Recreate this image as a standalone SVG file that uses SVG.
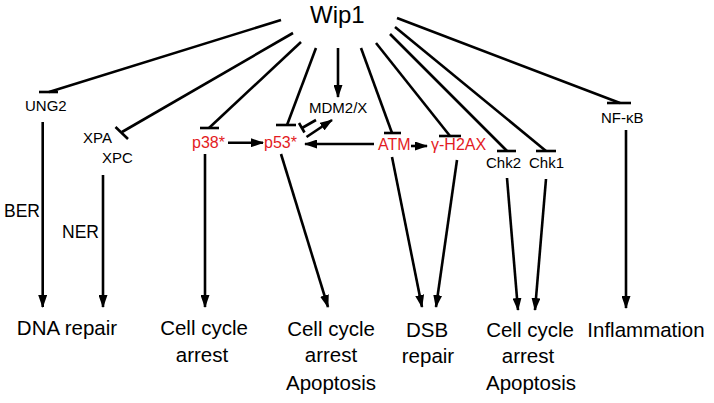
<svg xmlns="http://www.w3.org/2000/svg" width="714" height="403" viewBox="0 0 714 403">
<defs>
<marker id="arr" markerUnits="userSpaceOnUse" viewBox="0 0 13 9" refX="12" refY="4.5" markerWidth="13" markerHeight="9" orient="auto">
<path d="M0,0 L13,4.5 L0,9 z" fill="#000"/>
</marker>
<style>
.c{stroke:#000;stroke-width:2.6;fill:none}
.t{font-family:"Liberation Sans",Arial,sans-serif;fill:#000}
.s{font-size:15px}
.r{fill:#e31b23;font-size:16px}
.b{font-size:20.5px;text-anchor:middle}
.m{font-size:17.5px}
</style>
</defs>
<rect width="714" height="403" fill="#fff"/>
<g id="connectors">
<line class="c" x1="281" y1="20" x2="49" y2="92"/><line class="c" x1="39" y1="92" x2="58" y2="92"/>
<line class="c" x1="293" y1="33" x2="122" y2="132"/><line class="c" x1="115.5" y1="127" x2="128" y2="139"/>
<line class="c" x1="301" y1="42" x2="209" y2="128"/><line class="c" x1="200" y1="128" x2="219" y2="128"/>
<line class="c" x1="316" y1="48" x2="287" y2="125"/><line class="c" x1="276" y1="125" x2="296" y2="125"/>
<line class="c" x1="338" y1="48" x2="338" y2="97" marker-end="url(#arr)"/>
<line class="c" x1="361" y1="48" x2="392" y2="133"/><line class="c" x1="384" y1="133" x2="401" y2="133"/>
<line class="c" x1="376" y1="43" x2="450" y2="136"/><line class="c" x1="439" y1="136" x2="461" y2="136"/>
<line class="c" x1="390" y1="34" x2="507" y2="151"/><line class="c" x1="497" y1="151" x2="516" y2="151"/>
<line class="c" x1="395" y1="27" x2="546" y2="151"/><line class="c" x1="536" y1="151" x2="556" y2="151"/>
<line class="c" x1="397" y1="18" x2="620" y2="103"/><line class="c" x1="607" y1="103" x2="631" y2="103"/>
<line class="c" x1="316" y1="120" x2="302" y2="128"/><line class="c" x1="299" y1="123" x2="304.5" y2="132.5"/>
<line class="c" x1="306.5" y1="137" x2="332" y2="120" marker-end="url(#arr)"/>
<line class="c" x1="228" y1="142.7" x2="263" y2="142.7" marker-end="url(#arr)"/>
<line class="c" x1="374" y1="144" x2="305" y2="144" marker-end="url(#arr)"/>
<line class="c" x1="411" y1="146" x2="427" y2="146" marker-end="url(#arr)"/>
<line class="c" x1="42.7" y1="122" x2="42.7" y2="307" marker-end="url(#arr)"/>
<line class="c" x1="103" y1="175" x2="103" y2="307" marker-end="url(#arr)"/>
<line class="c" x1="205" y1="154" x2="205" y2="307" marker-end="url(#arr)"/>
<line class="c" x1="281" y1="154" x2="328" y2="307" marker-end="url(#arr)"/>
<line class="c" x1="392" y1="157" x2="422" y2="307" marker-end="url(#arr)"/>
<line class="c" x1="457" y1="160" x2="436" y2="307" marker-end="url(#arr)"/>
<line class="c" x1="507" y1="178" x2="518" y2="310" marker-end="url(#arr)"/>
<line class="c" x1="546" y1="179" x2="535" y2="310" marker-end="url(#arr)"/>
<line class="c" x1="626" y1="130" x2="626" y2="308" marker-end="url(#arr)"/>
</g>
<g id="wip1"><text class="t" x="310" y="23" font-size="24">Wip1</text></g>
<g id="ung2"><text class="t s" x="25" y="111">UNG2</text></g>
<g id="xpa-xpc"><text class="t s" x="83" y="143">XPA</text><text class="t s" x="102" y="163">XPC</text></g>
<g id="p38"><text class="t r" x="192" y="148">p38*</text></g>
<g id="p53"><text class="t r" x="264" y="148">p53*</text></g>
<g id="mdm2x"><text class="t s" x="309" y="113">MDM2/X</text></g>
<g id="atm"><text class="t r" x="378" y="150">ATM</text></g>
<g id="h2ax"><text class="t r" x="431" y="150">γ-H2AX</text></g>
<g id="chk2"><text class="t s" x="486" y="168">Chk2</text></g>
<g id="chk1"><text class="t s" x="529" y="168">Chk1</text></g>
<g id="nfkb"><text class="t s" x="601" y="123">NF-κB</text></g>
<g id="ber"><text class="t m" x="4" y="217">BER</text></g>
<g id="ner"><text class="t m" x="62" y="238">NER</text></g>
<g id="dna-repair"><text class="t b" x="67" y="335">DNA repair</text></g>
<g id="cca1"><text class="t b" x="204" y="335">Cell cycle</text><text class="t b" x="202" y="362">arrest</text></g>
<g id="cca2"><text class="t b" x="331" y="336">Cell cycle</text><text class="t b" x="331" y="362">arrest</text><text class="t b" x="331" y="390">Apoptosis</text></g>
<g id="dsb"><text class="t b" x="427" y="337">DSB</text><text class="t b" x="428" y="363">repair</text></g>
<g id="cca3"><text class="t b" x="530" y="337">Cell cycle</text><text class="t b" x="528" y="363">arrest</text><text class="t b" x="531" y="390">Apoptosis</text></g>
<g id="inflammation"><text class="t b" x="646" y="337">Inflammation</text></g>
</svg>
